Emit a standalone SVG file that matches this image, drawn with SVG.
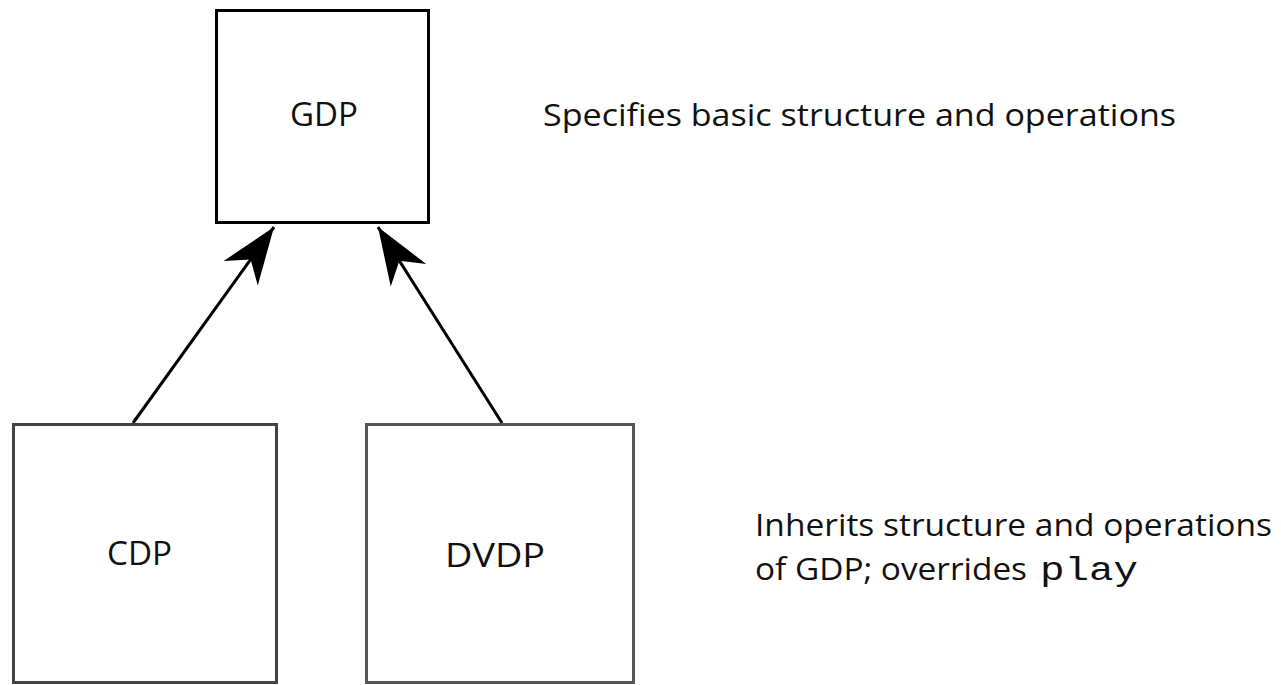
<svg xmlns="http://www.w3.org/2000/svg" width="1281" height="685" viewBox="0 0 1281 685">
<style>
.box{fill:#fff;stroke:#000;stroke-width:3}
.lbl{font-family:"Open Sans","DejaVu Sans",sans-serif;font-size:32px;fill:#111}
.note{font-family:"Open Sans","DejaVu Sans",sans-serif;font-size:31px;fill:#111}
.mono{font-family:"Liberation Mono","Courier New",monospace;font-size:33px;fill:#111}
.conn{stroke:#000;stroke-width:3;fill:none}
</style>
<defs>
<marker id="ah" markerUnits="userSpaceOnUse" markerWidth="60" markerHeight="50" viewBox="-58 -25 60 50" refX="0" refY="0" orient="auto">
<path d="M0,0 L-57,-21 L-40,0 L-57,21 Z" fill="#000"/>
</marker>
</defs>
<rect width="1281" height="685" fill="#fff"/>
<g id="connectors">
<line class="conn" x1="133" y1="423" x2="274" y2="227" marker-end="url(#ah)"/>
<line class="conn" x1="502" y1="423" x2="378" y2="227" marker-end="url(#ah)"/>
</g>
<g id="GDP">
<rect class="box" x="216.5" y="10.5" width="212" height="212"/>
<text class="lbl" x="324" y="126" text-anchor="middle" textLength="68" lengthAdjust="spacingAndGlyphs">GDP</text>
</g>
<g id="CDP">
<rect class="box" x="13.5" y="424.5" width="263" height="258" style="stroke:#444"/>
<text class="lbl" x="107" y="565" textLength="65" lengthAdjust="spacingAndGlyphs">CDP</text>
</g>
<g id="DVDP">
<rect class="box" x="366.5" y="424.5" width="267" height="258" style="stroke:#555"/>
<text class="lbl" x="445" y="567" textLength="100" lengthAdjust="spacingAndGlyphs">DVDP</text>
</g>
<g id="notes">
<text class="note" x="543" y="126" textLength="633" lengthAdjust="spacingAndGlyphs">Specifies basic structure and operations</text>
<text class="note" x="755" y="536" textLength="517" lengthAdjust="spacingAndGlyphs">Inherits structure and operations</text>
<text class="note" x="755" y="580" textLength="272" lengthAdjust="spacingAndGlyphs">of GDP; overrides</text>
<text class="mono" x="1040" y="580" textLength="98" lengthAdjust="spacingAndGlyphs">play</text>
</g>
</svg>
